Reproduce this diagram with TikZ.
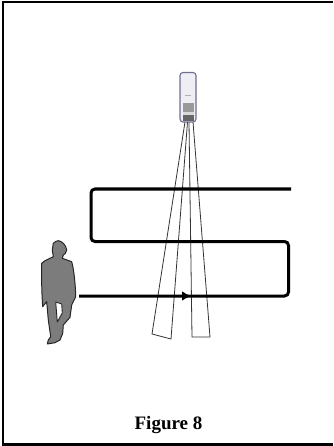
\documentclass[tikz,border=0pt]{standalone}
\usepackage{fontspec}
\setmainfont{Liberation Serif}
\usetikzlibrary{arrows.meta, positioning}
\definecolor{bodygray}{HTML}{7C7C7C}
\definecolor{caseblue}{HTML}{6E6E90}
\definecolor{casefill}{HTML}{EEEEF4}
\begin{document}
\begin{tikzpicture}[
    x=1pt, y=-1pt,
    frameline/.style={draw=black, line width=2.6pt},
    beam/.style={draw=black!80, line width=0.8pt, line join=miter},
    walkpath/.style={draw=black, line width=3pt, rounded corners=4pt},
    walktip/.style={-{Latex[length=9pt, width=10pt]}, line width=2.6pt}
]
    \useasboundingbox (0,0) rectangle (333,446);
    \draw[frameline] (333,2) -- (3,2) -- (3,444.5) -- (333,444.5);

    % sensor on the ceiling
    \draw[beam] (185,122) -- (152,334) -- (171,339) -- (187.5,122);
    \draw[beam] (189,122) -- (192,337) -- (210,337) -- (193,122);
    \draw[caseblue, fill=casefill, line width=1.1pt, rounded corners=3pt] (180,72.5) rectangle (196,122);
    \draw[black!30, line width=0.5pt] (185,95) -- (191,95);
    \fill[black!40] (183,103) rectangle (194,112);
    \fill[black!15] (183,112) rectangle (194,115);
    \fill[black!60] (183,115) rectangle (194,121);

    % walking path
    \coordinate (pathend) at (291,189);
    \coordinate (pathstart) at (79,296);
    \draw[walkpath] (pathend) -- (91,189) -- (91,241.5) -- (288.5,241.5) -- (288.5,296) -- (pathstart);
    \coordinate (tipstart) at (170,296);
    \coordinate (tipend) at (191,296);
    \draw[walktip] (tipstart) -- (tipend);

    % person
    \draw[black!85, fill=bodygray, line width=1pt, line join=round]
        (53.3,243.3) .. controls (55,241.5) and (57,240.7) .. (58.3,240.7)
        .. controls (62,241) and (66,245) .. (66.7,250)
        .. controls (66.5,253) and (64,255) .. (63.3,255)
        -- (62.3,258.3) -- (71.7,261.7)
        .. controls (74,270) and (75.5,285) .. (75.7,296.7)
        -- (71.7,305) -- (71,310) -- (70,317.3) -- (63.3,325)
        -- (62.7,333.3) -- (60,340) -- (55,342.7) -- (47.3,344)
        -- (48.3,340) -- (50.7,336.7) -- (48.3,320) -- (46.7,301.7)
        -- (44,305) -- (42.7,306.7)
        .. controls (41.5,290) and (41.5,275) .. (41.7,263.3)
        -- (45,260.7) -- (53.3,256.7) -- (52.3,250) -- cycle;
    \draw[black!85, fill=white, line width=0.9pt, line join=round]
        (55.7,302) -- (61.7,304) -- (62.3,313) -- (57.3,322) -- cycle;

    \node[font=\bfseries\fontsize{19}{22}\selectfont] (caption) at (168.5,425) {Figure 8};
\end{tikzpicture}
\end{document}
